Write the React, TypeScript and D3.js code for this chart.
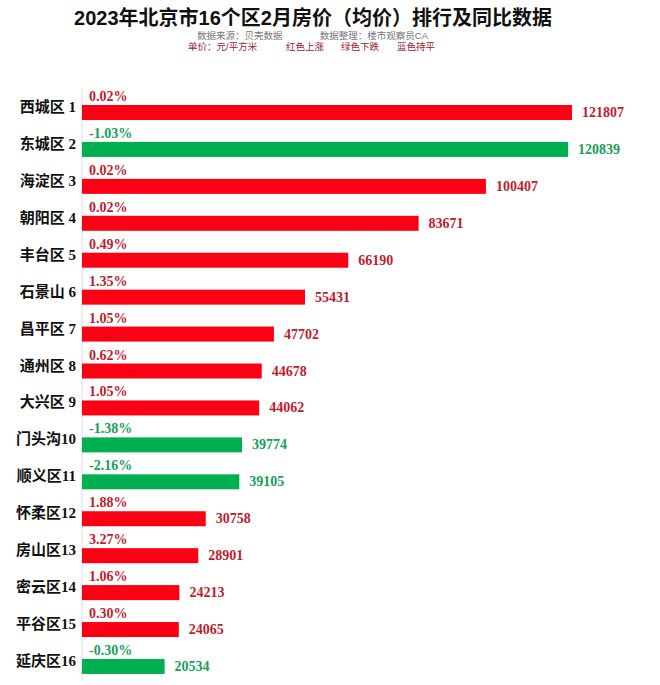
import React from "react";
import * as d3 from "d3";

const districts = ["西城区 1", "东城区 2", "海淀区 3", "朝阳区 4", "丰台区 5", "石景山 6", "昌平区 7", "通州区 8", "大兴区 9", "门头沟10", "顺义区11", "怀柔区12", "房山区13", "密云区14", "平谷区15", "延庆区16"];
const prices = [121807, 120839, 100407, 83671, 66190, 55431, 47702, 44678, 44062, 39774, 39105, 30758, 28901, 24213, 24065, 20534];
const changes = [0.02, -1.03, 0.02, 0.02, 0.49, 1.35, 1.05, 0.62, 1.05, -1.38, -2.16, 1.88, 3.27, 1.06, 0.30, -0.30];

const title = "2023年北京市16个区2月房价（均价）排行及同比数据";
const sourceText = "数据来源：贝壳数据";
const editorText = "数据整理：楼市观察员CA";
const legendItems = ["单价：元/平方米", "红色上涨", "绿色下跌", "蓝色持平"];

const W = 660;
const H = 685;

const RED_BAR = "#fb0014";
const GREEN_BAR = "#00b050";
const RED_TEXT = "#bf1b2e";
const GREEN_TEXT = "#15a05a";
const BLUE_BAR = "#2f6fd6";

export default function App() {
  const x = d3.scaleLinear().domain([0, d3.max(prices) as number]).range([82, 572]);
  const y = d3.scaleBand<string>().domain(districts).range([105, 673.96]).paddingInner(0.594).paddingOuter(0);
  const bw = y.bandwidth();
  const serif = "'Liberation Serif', 'Times New Roman', serif";
  const cjk = "'Liberation Serif', 'Noto Sans CJK SC', serif";
  const sub = "'Liberation Sans', 'Noto Sans CJK SC', sans-serif";
  const colorOf = (c: number) => (c > 0 ? RED_BAR : c < 0 ? GREEN_BAR : BLUE_BAR);
  const textOf = (c: number) => (c > 0 ? RED_TEXT : c < 0 ? GREEN_TEXT : BLUE_BAR);
  const legendX = [188, 286, 341, 397];

  return (
    <svg width={W} height={H} style={{ position: "absolute", left: 0, top: 0, background: "#fff" }}>
      <rect x={0} y={0} width={W} height={H} fill="#fff" />
      <text x={313} y={25} textAnchor="middle" fontFamily={sub} fontWeight="bold" fontSize={20} fill="#111">
        {title}
      </text>
      <text x={197} y={38.5} fontFamily={sub} fontSize={9.5} fill="#777">
        {sourceText}
      </text>
      <text x={428} y={38.5} textAnchor="end" fontFamily={sub} fontSize={9.5} fill="#777">
        {editorText}
      </text>
      {legendItems.map((t, i) => (
        <text key={t} x={legendX[i]} y={49.5} fontFamily={sub} fontSize={9.5} fill="#a3202c">
          {t}
        </text>
      ))}
      <line x1={82} x2={82} y1={88} y2={680} stroke="#dcdcdc" strokeWidth={1} />
      {districts.map((d, i) => {
        const top = y(d) as number;
        const c = changes[i];
        const pct = `${c.toFixed(2)}%`;
        return (
          <g key={d}>
            <rect x={x(0)} y={top} width={x(prices[i]) - x(0)} height={bw} fill={colorOf(c)} />
            <text x={76} y={top + 2} textAnchor="end" dominantBaseline="central" fontFamily={cjk} fontWeight="bold" fontSize={15} fill="#111">
              {d}
            </text>
            <text x={89} y={top - 4} fontFamily={serif} fontWeight="bold" fontSize={14} fill={textOf(c)}>
              {pct}
            </text>
            <text x={x(prices[i]) + 10} y={top + bw / 2} dominantBaseline="central" fontFamily={serif} fontWeight="bold" fontSize={14} fill={textOf(c)}>
              {prices[i]}
            </text>
          </g>
        );
      })}
    </svg>
  );
}
